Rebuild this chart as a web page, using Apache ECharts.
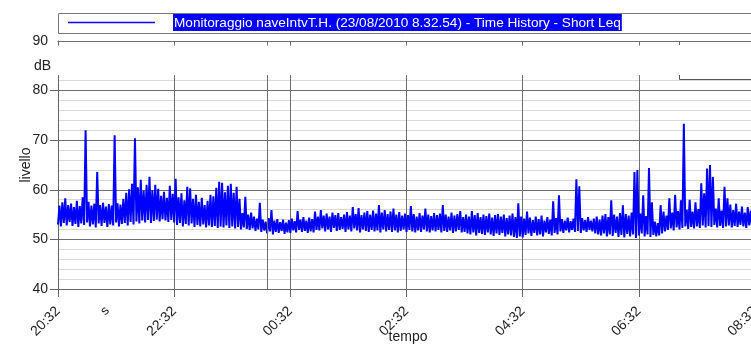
<!DOCTYPE html>
<html>
<head>
<meta charset="utf-8">
<script src="https://cdn.jsdelivr.net/npm/echarts@6/dist/echarts.min.js"></script>
<style>
  html, body { margin: 0; padding: 0; background: #fff; }
  #chart { width: 751px; height: 348px; }
</style>
</head>
<body>
<div id="chart"></div>
<script>
// x tick labels, every 120 minutes from 20:32
const tickLabels = ["20:32", "22:32", "00:32", "02:32", "04:32", "06:32", "08:32"];
const stepMinutes = 3;

// short Leq, lower edge of the trace per 3-minute step (dB)
const levelLow = [
  53.0, 52.6, 53.3, 52.8, 53.5, 52.7, 53.1, 52.5, 53.2, 52.9,
  53.4, 52.6, 53.0, 52.4, 53.2, 52.7, 53.3, 52.5, 53.0, 52.8,
  53.4, 52.6, 53.1, 53.3, 52.8, 53.5, 53.0, 53.6, 53.2, 53.8,
  53.4, 53.9, 53.3, 53.7, 54.0, 53.6, 54.1, 53.8, 53.5, 53.9,
  53.4, 52.9, 53.3, 52.6, 53.1, 52.8, 53.2, 52.5, 52.9, 52.6,
  53.0, 52.4, 52.8, 52.5, 52.7, 52.3, 52.6, 52.4, 52.8, 52.3,
  52.6, 52.2, 52.5, 52.0, 52.4, 52.1, 51.9, 52.2, 51.7, 52.0,
  51.5, 51.8, 51.2, 51.6, 51.0, 51.5, 51.3, 51.7, 51.1, 51.4,
  51.3, 51.8, 51.4, 51.9, 51.5, 51.7, 51.3, 51.6, 51.4, 51.9,
  51.8, 52.2, 51.6, 52.0, 51.5, 52.3, 51.7, 51.9, 52.1, 51.5,
  52.0, 51.6, 52.2, 51.8, 51.4, 52.0, 51.7, 51.5, 51.9, 51.6,
  51.8, 51.4, 52.0, 51.6, 51.9, 51.5, 51.8, 51.4, 51.7, 52.0,
  51.5, 51.9, 51.6, 51.4, 51.8, 51.5, 52.0, 51.6, 51.4, 51.8,
  51.6, 51.9, 51.4, 51.7, 51.5, 51.8, 51.3, 51.6, 51.9, 51.4,
  51.5, 51.2, 51.0, 51.4, 50.8, 51.3, 51.1, 50.9, 51.4, 51.0,
  50.7, 51.2, 50.9, 51.3, 50.6, 51.0, 50.8, 50.5, 50.3, 50.6,
  50.4, 50.9, 51.2, 50.7, 51.3, 50.8, 51.0, 50.6, 51.4, 51.1,
  50.8, 51.3, 51.0, 51.6, 51.3, 51.8, 51.4, 51.9, 51.5, 51.7,
  51.3, 51.8, 51.5, 51.9, 51.6, 51.2, 51.0, 50.8, 51.2, 50.6,
  51.0, 50.7, 51.3, 50.5, 50.9, 50.4, 51.1, 50.6, 51.0, 50.3,
  50.8, 51.2, 50.6, 51.0, 50.5, 50.9, 50.6, 50.8, 51.2, 51.6,
  51.9, 52.2, 51.8, 52.4, 52.0, 52.3, 52.6, 52.1, 52.5, 52.2,
  52.6, 52.3, 52.8, 52.4, 52.7, 52.5, 52.9, 52.4, 52.7, 52.3,
  52.6, 52.8, 52.4, 52.7, 52.5, 52.9, 52.6, 52.3, 52.8, 52.5,
  52.7
];

// short Leq, upper edge of the trace per 3-minute step (dB), spikes included
const levelHigh = [
  56.8, 57.5, 58.3, 56.9, 57.2, 56.5, 57.8, 56.7, 58.5, 72.0,
  57.6, 56.8, 57.2, 63.6, 56.9, 57.4, 56.6, 57.1, 56.8, 71.0,
  57.3, 57.0, 58.2, 59.4, 60.1, 61.2, 70.4, 60.5, 62.0, 59.8,
  61.0, 62.6, 59.9, 61.0, 60.2, 58.8, 59.6, 58.4, 60.8, 59.2,
  62.2, 58.5, 59.3, 57.9, 60.6, 60.3, 58.2, 59.0, 57.6, 58.4,
  56.9, 57.8, 59.0, 58.7, 60.4, 61.6, 61.4, 59.5, 60.8, 61.2,
  59.4, 60.6, 58.2, 55.3, 58.6, 55.0, 55.4, 54.6, 54.2, 57.4,
  54.0, 53.6, 54.3, 55.9, 53.8, 54.1, 53.5, 54.0, 53.4, 53.9,
  54.2, 53.7, 55.7, 54.0, 54.5, 53.8, 54.4, 54.1, 55.6, 54.6,
  55.9, 54.8, 55.2, 54.6, 55.4, 54.9, 55.3, 54.5, 55.0, 55.5,
  54.8, 56.5, 55.1, 56.3, 54.9, 55.4, 55.7, 55.0, 55.8, 55.2,
  56.9, 55.4, 55.9, 55.1, 55.6, 56.2, 55.0, 55.5, 54.8, 55.2,
  54.9, 56.7, 55.1, 54.6, 55.3, 54.8, 56.2, 55.0, 54.7, 55.3,
  54.9, 55.2, 56.9, 55.0, 54.6, 55.4, 54.8, 55.1, 55.7, 54.5,
  55.0, 54.6, 55.7, 54.9, 55.3, 54.5, 55.0, 54.7, 55.2, 54.4,
  54.9, 55.1, 54.6, 55.0, 54.3, 54.8, 55.2, 54.5, 57.3, 54.6,
  54.2, 55.6, 54.4, 53.9, 54.6, 54.1, 54.8, 53.8, 54.5, 54.0,
  57.7, 54.3, 58.9, 54.1, 53.8, 54.4, 53.7, 54.2, 62.1, 60.7,
  54.3, 53.9, 54.5, 53.8, 54.2, 54.6, 54.0, 54.8, 55.1, 54.5,
  57.9, 55.0, 54.6, 55.3, 56.9, 55.1, 54.8, 55.4, 63.6, 64.0,
  55.2, 58.9, 54.7, 64.4, 57.5, 53.6, 53.3, 56.9, 55.6, 54.8,
  58.3, 55.4, 59.0, 55.7, 57.9, 73.3, 56.0, 58.0, 55.6, 57.5,
  56.1, 61.3, 59.3, 64.3, 65.0, 62.6, 56.2, 58.3, 55.8, 60.6,
  58.3, 57.0, 55.9, 57.2, 55.6, 56.6, 55.4, 56.5, 55.8, 66.0,
  55.6
];

// extra vertical marker (minutes after 20:32)
const markerMinutes = [216];

const legendText = "Monitoraggio naveIntvT.H. (23/08/2010 8.32.54) - Time History - Short Leq";

const FONT = '"Liberation Sans", Arial, sans-serif';

// each step becomes a low point followed by a high point
const points = [];
levelLow.forEach((lo, i) => {
  points.push([i * stepMinutes, lo]);
  points.push([i * stepMinutes + stepMinutes / 2, levelHigh[i]]);
});

const chart = echarts.init(document.getElementById("chart"));

chart.setOption({
  animation: false,
  backgroundColor: "#fff",
  grid: { left: 58, right: -4, top: 41, bottom: 59, outerBoundsMode: "none", containLabel: false },
  xAxis: {
    type: "value",
    min: 0,
    max: 720,
    interval: 120,
    axisLine: { show: true, lineStyle: { color: "#666", width: 1 } },
    axisTick: { show: true, length: 8, lineStyle: { color: "#666" } },
    axisLabel: {
      rotate: 45,
      margin: 20,
      fontFamily: FONT,
      fontSize: 14,
      color: "#222",
      showMinLabel: true,
      showMaxLabel: true,
      hideOverlap: false,
      formatter: (v) => tickLabels[Math.round(v / 120)] || ""
    },
    splitLine: { show: true, lineStyle: { color: "#6e6e6e", width: 1 } }
  },
  yAxis: {
    type: "value",
    min: 40,
    max: 90,
    interval: 10,
    axisLine: { show: true, lineStyle: { color: "#666", width: 1 } },
    axisTick: { show: true, length: 8, lineStyle: { color: "#666" } },
    axisLabel: { fontFamily: FONT, fontSize: 14, color: "#222", margin: 10 },
    splitLine: { show: true, lineStyle: { color: "#6e6e6e", width: 1 } },
    minorTick: { show: false, splitNumber: 5 },
    minorSplitLine: { show: true, lineStyle: { color: "#d9d9d9", width: 1 } }
  },
  series: [
    {
      type: "line",
      data: points,
      showSymbol: false,
      symbol: "none",
      lineStyle: { color: "#0000ff", width: 2 },
      markLine: {
        silent: true,
        symbol: "none",
        label: { show: false },
        lineStyle: { color: "#6e6e6e", width: 1, type: "solid" },
        data: markerMinutes.map((m) => ({ xAxis: m }))
      },
      z: 3
    }
  ],
  graphic: [
    // white gap between the 90 frame line and the grid
    { type: "rect", z: 50, shape: { x: 57, y: 45.5, width: 700, height: 29.5 }, style: { fill: "#fff" } },
    { type: "rect", z: 50, shape: { x: 48.5, y: 37, width: 9, height: 7 }, style: { fill: "#fff" } },
    // legend box
    { type: "rect", z: 60, shape: { x: 58.5, y: 13.5, width: 760, height: 20 }, style: { fill: "#fff", stroke: "#777", lineWidth: 1 } },
    { type: "line", z: 61, shape: { x1: 68, y1: 22.5, x2: 155, y2: 22.5 }, style: { stroke: "#0000ff", lineWidth: 1.5 } },
    {
      type: "text", z: 61, x: 173, y: 14,
      style: {
        text: legendText, fill: "#fff", backgroundColor: "#0000ff",
        font: "13.6px " + FONT, padding: [2, 1, 1, 1]
      }
    },
    // bracket on the right
    { type: "line", z: 60, shape: { x1: 679.5, y1: 41, x2: 679.5, y2: 45 }, style: { stroke: "#666", lineWidth: 1 } },
    { type: "polyline", z: 60, shape: { points: [[679.5, 75], [679.5, 79.5], [752, 79.5]] }, style: { stroke: "#555", lineWidth: 1, fill: null } },
    // axis texts
    { type: "text", z: 60, x: 34, y: 59, style: { text: "dB", font: "14px " + FONT, fill: "#222" } },
    {
      type: "text", z: 60, x: 26, y: 165, rotation: Math.PI / 2,
      style: { text: "livello", font: "14px " + FONT, fill: "#222", align: "center", verticalAlign: "middle" }
    },
    {
      type: "text", z: 60, x: 105, y: 311, rotation: Math.PI / 4,
      style: { text: "s", font: "13px " + FONT, fill: "#222", align: "center", verticalAlign: "middle" }
    },
    {
      type: "text", z: 60, x: 408, y: 337,
      style: { text: "tempo", font: "14px " + FONT, fill: "#222", align: "center", verticalAlign: "middle" }
    }
  ]
});
</script>
</body>
</html>
